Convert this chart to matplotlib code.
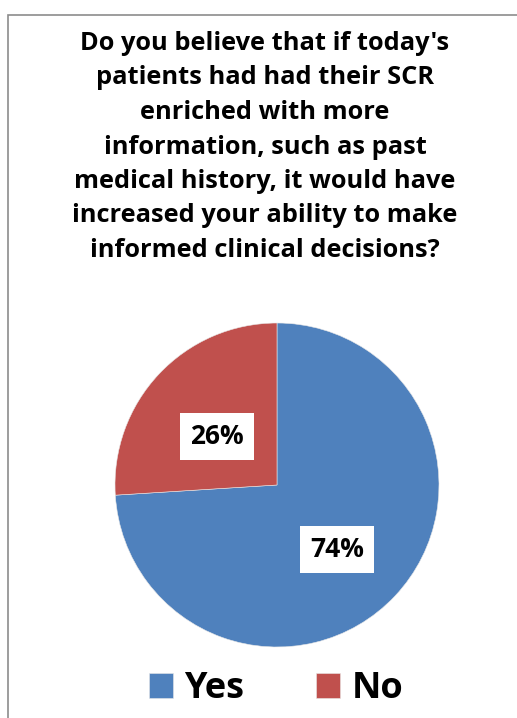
import matplotlib.pyplot as plt
from matplotlib.patches import Rectangle

labels = ['Yes', 'No']
values = [74, 26]
colors = ['#4F81BD', '#C0504D']
title = ("Do you believe that if today's\npatients had had their SCR\nenriched with more\n"
         "information, such as past\nmedical history, it would have\n"
         "increased your ability to make\ninformed clinical decisions?")

W, H = 517, 718
fig = plt.figure(figsize=(W / 100, H / 100), dpi=100)
fig.patch.set_facecolor('white')

# chart border (left/top visible, rest cut off)
fig.patches.append(Rectangle((8 / W, -0.05), 1.2, 1 - 15 / H + 0.05,
                             transform=fig.transFigure, fill=False,
                             edgecolor='#8c8c8c', linewidth=1.2))

fig.text(265 / W, 1 - 31 / H, title, ha='center', va='top', fontsize=18.3,
         fontweight='bold', family='Open Sans', linespacing=1.5)

ax = fig.add_axes([115 / W, 1 - 647 / H, 324 / W, 324 / H])
wedges, texts, autotexts = ax.pie(
    values, colors=colors, startangle=90, counterclock=False,
    autopct='%1.0f%%', pctdistance=0.51,
    wedgeprops=dict(edgecolor='#e8e8e8', linewidth=0.4),
    textprops=dict(fontsize=19, fontweight='bold', family='Open Sans', color='black'))
for t in autotexts:
    x, y = t.get_position()
    t.set_position((x, y - 0.05))
    t.set_bbox(dict(facecolor='white', edgecolor='none', pad=7.5))
ax.set_xlim(-1, 1)
ax.set_ylim(-1, 1)
ax.set_aspect('equal')

leg = fig.legend(wedges, labels, loc='center', bbox_to_anchor=(276 / W, 1 - 689 / H),
                 ncol=2, frameon=False, handlelength=0.67, handleheight=0.67,
                 handletextpad=0.3, columnspacing=2.0,
                 prop=dict(size=26, weight='bold', family='Open Sans'))

fig.savefig('out.png', dpi=100)
